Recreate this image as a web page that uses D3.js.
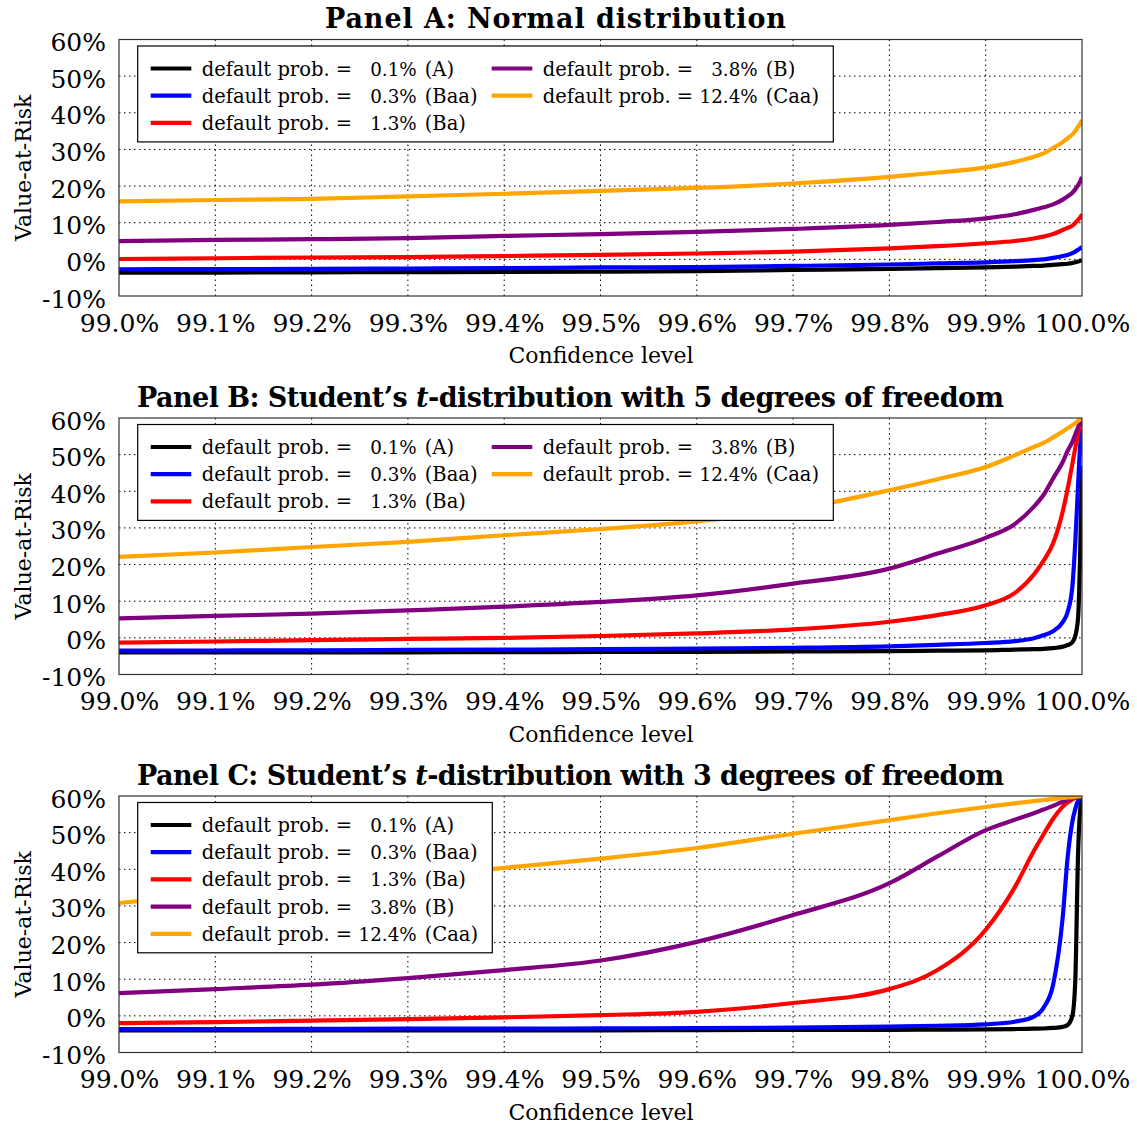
<!DOCTYPE html>
<html><head><meta charset="utf-8">
<script src="https://cdn.jsdelivr.net/npm/d3@7"></script>
<style>body{margin:0;background:#fff}svg{display:block}</style>
</head><body>
<svg id="chart" width="1137" height="1126"></svg>
<script>
// ---------- data ----------
const confLevels = [99.0, 99.1, 99.2, 99.3, 99.4, 99.5, 99.6, 99.7, 99.8, 99.85, 99.9, 99.93, 99.95, 99.96, 99.97, 99.98, 99.985, 99.99, 99.993, 99.996, 99.998, 100.0];

const xTickValues = [99.0, 99.1, 99.2, 99.3, 99.4, 99.5, 99.6, 99.7, 99.8, 99.9, 100.0];
const xTickLabels = ["99.0%", "99.1%", "99.2%", "99.3%", "99.4%", "99.5%", "99.6%", "99.7%", "99.8%", "99.9%", "100.0%"];
const yTickValues = [-10, 0, 10, 20, 30, 40, 50, 60];
const yTickLabels = ["-10%", "0%", "10%", "20%", "30%", "40%", "50%", "60%"];

const defaultProbs = ["0.1%", "0.3%", "1.3%", "3.8%", "12.4%"];
const ratings = ["(A)", "(Baa)", "(Ba)", "(B)", "(Caa)"];

// Panel A: normal distribution (VaR in %)
const normalA   = [-3.6, -3.6, -3.55, -3.5, -3.45, -3.35, -3.2, -2.9, -2.6, -2.4, -2.2, -2.0, -1.8, -1.7, -1.5, -1.3, -1.2, -1.0, -0.8, -0.6, -0.4, -0.2];
const normalBaa = [-2.7, -2.65, -2.6, -2.5, -2.4, -2.2, -2.1, -1.8, -1.4, -1.1, -0.8, -0.5, -0.2, 0.0, 0.4, 0.9, 1.2, 1.7, 2.1, 2.6, 3.0, 3.4];
const normalBa  = [0.1, 0.3, 0.5, 0.6, 0.9, 1.2, 1.6, 2.1, 3.0, 3.6, 4.4, 5.0, 5.7, 6.2, 6.9, 8.0, 8.6, 9.2, 9.9, 10.8, 11.4, 12.3];
const normalB   = [5.0, 5.3, 5.5, 5.8, 6.4, 6.9, 7.5, 8.3, 9.4, 10.2, 11.2, 12.3, 13.5, 14.2, 15.0, 16.3, 17.2, 18.2, 19.1, 20.3, 21.2, 22.5];
const normalCaa = [15.8, 16.2, 16.5, 17.2, 17.9, 18.7, 19.5, 20.7, 22.5, 23.7, 25.1, 26.6, 28.0, 28.9, 30.4, 32.0, 33.0, 34.1, 35.0, 36.2, 37.0, 38.0];

// Panel B: Student's t, 5 degrees of freedom
const t5A   = [-4.0, -4.0, -4.0, -3.95, -3.9, -3.85, -3.8, -3.7, -3.6, -3.5, -3.4, -3.2, -3.1, -3.0, -2.8, -2.4, -2.0, -1.2, 0.5, 5.7, 22.0, 47.0];
const t5Baa = [-3.5, -3.45, -3.4, -3.3, -3.2, -3.1, -2.9, -2.7, -2.3, -1.9, -1.4, -0.9, -0.1, 0.7, 1.8, 4.3, 7.0, 14.0, 26.0, 42.0, 52.0, 57.0];
const t5Ba  = [-1.3, -1.0, -0.6, -0.3, 0.0, 0.5, 1.2, 2.3, 4.4, 6.2, 8.9, 12.2, 17.3, 21.0, 25.8, 34.5, 40.5, 47.5, 51.8, 55.8, 58.2, 59.9];
const t5B   = [5.3, 6.0, 6.6, 7.5, 8.5, 9.8, 11.6, 14.8, 18.9, 23.0, 27.3, 31.0, 35.8, 39.0, 43.5, 48.0, 51.0, 53.5, 55.5, 57.5, 58.8, 59.9];
const t5Caa = [22.1, 23.3, 24.8, 26.2, 28.0, 29.7, 31.8, 35.0, 40.3, 43.3, 46.6, 49.8, 52.1, 53.2, 54.7, 56.3, 57.2, 58.0, 58.6, 59.2, 59.6, 59.9];

// Panel C: Student's t, 3 degrees of freedom
const t3A   = [-4.0, -4.0, -4.0, -4.0, -3.95, -3.95, -3.9, -3.85, -3.8, -3.75, -3.7, -3.6, -3.5, -3.45, -3.3, -3.0, -2.5, 0.0, 9.5, 45.0, 56.0, 60.0];
const t3Baa = [-3.6, -3.6, -3.55, -3.5, -3.5, -3.4, -3.35, -3.2, -2.9, -2.7, -2.3, -1.6, -0.2, 2.2, 8.5, 27.0, 43.0, 53.0, 56.5, 58.7, 59.5, 60.0];
const t3Ba  = [-2.0, -1.7, -1.3, -0.9, -0.4, 0.2, 1.1, 3.5, 7.3, 12.5, 23.5, 35.0, 45.0, 49.5, 53.8, 57.1, 58.3, 59.1, 59.5, 59.8, 59.9, 60.0];
const t3B   = [6.2, 7.3, 8.5, 10.3, 12.5, 15.1, 20.2, 27.5, 36.2, 43.5, 50.7, 53.5, 55.3, 56.3, 57.3, 58.5, 59.0, 59.4, 59.6, 59.8, 59.9, 60.0];
const t3Caa = [30.8, 33.3, 35.7, 38.0, 40.4, 42.9, 45.8, 49.7, 53.4, 55.3, 57.0, 58.0, 58.6, 58.9, 59.2, 59.5, 59.6, 59.7, 59.8, 59.9, 59.95, 60.0];

const seriesColors = ["#000000", "#0000ff", "#ff0000", "#800080", "#ffa500"];

// ---------- drawing ----------
const svg = d3.select("#chart");
const FONT = "'DejaVu Serif', serif";
const plotLeft = 119, plotRight = 1082, plotH = 256.5;

const x = d3.scaleLinear().domain([99, 100]).range([plotLeft, plotRight]);

function drawPanel(idx, top, titleParts, titleCx, titleW, series, legendCols) {
  const bottom = top + plotH;
  const y = d3.scaleLinear().domain([-10, 60]).range([bottom, top]);
  const g = svg.append("g");

  // title
  const t = g.append("text").attr("x", titleCx).attr("y", top - 11.2)
    .attr("text-anchor", "middle").attr("font-family", FONT)
    .attr("font-weight", "bold").attr("font-size", 27).attr("fill", "#000")
    .attr("textLength", titleW).attr("lengthAdjust", "spacing");
  titleParts.forEach(p => {
    const ts = t.append("tspan").text(p.text);
    if (p.italic) ts.attr("font-style", "italic");
  });

  // grid
  const grid = g.append("g").attr("stroke", "#000").attr("stroke-width", 1)
    .attr("stroke-dasharray", "1.5,3.5");
  xTickValues.slice(1, -1).forEach(v => {
    grid.append("line").attr("x1", x(v)).attr("x2", x(v)).attr("y1", top).attr("y2", bottom);
  });
  yTickValues.slice(1, -1).forEach(v => {
    grid.append("line").attr("x1", plotLeft).attr("x2", plotRight).attr("y1", y(v)).attr("y2", y(v));
  });

  // curves
  const clipId = "clip" + idx;
  g.append("clipPath").attr("id", clipId).append("rect")
    .attr("x", plotLeft).attr("y", top).attr("width", plotRight - plotLeft).attr("height", plotH);
  const line = d3.line().x(d => x(d[0])).y(d => y(d[1])).curve(d3.curveMonotoneX);
  const curves = g.append("g").attr("clip-path", `url(#${clipId})`);
  series.forEach((vals, i) => {
    curves.append("path")
      .attr("d", line(confLevels.map((c, k) => [c, vals[k]])))
      .attr("fill", "none").attr("stroke", seriesColors[i])
      .attr("stroke-width", 4.2).attr("stroke-linejoin", "round").attr("stroke-linecap", "butt");
  });

  // frame
  g.append("rect").attr("x", plotLeft).attr("y", top)
    .attr("width", plotRight - plotLeft).attr("height", plotH)
    .attr("fill", "none").attr("stroke", "#333").attr("stroke-width", 1.2);

  // axes (labels only)
  const xAxis = g.append("g").attr("transform", `translate(0,${bottom})`)
    .call(d3.axisBottom(x).tickValues(xTickValues).tickFormat((d, i) => xTickLabels[i]).tickSize(0));
  xAxis.select(".domain").remove();
  xAxis.selectAll("text").attr("y", 35.7).attr("dy", null)
    .attr("font-family", FONT).attr("font-size", 25).attr("fill", "#000");

  const yAxis = g.append("g").attr("transform", `translate(${plotLeft},0)`)
    .call(d3.axisLeft(y).tickValues(yTickValues).tickFormat((d, i) => yTickLabels[i]).tickSize(0));
  yAxis.select(".domain").remove();
  yAxis.selectAll("text").attr("x", -13).attr("dy", 11)
    .attr("font-family", FONT).attr("font-size", 25).attr("fill", "#000");

  // axis titles
  g.append("text").attr("x", 601).attr("y", bottom + 67).attr("text-anchor", "middle")
    .attr("font-family", FONT).attr("font-size", 22).text("Confidence level");
  g.append("text").attr("transform", `translate(31,${top + plotH / 2}) rotate(-90)`)
    .attr("text-anchor", "middle").attr("font-family", FONT).attr("font-size", 22)
    .text("Value-at-Risk");

  // legend
  const rowsPerCol = d3.max(legendCols, c => c.length);
  const lx = 137.7, ly = top + 6.5;
  const lw = legendCols.length === 2 ? 695.6 : 354.6;
  const lh = 41.5 + (rowsPerCol - 1) * 27.2;
  const leg = g.append("g");
  leg.append("rect").attr("x", lx).attr("y", ly).attr("width", lw).attr("height", lh)
    .attr("fill", "#fff").attr("stroke", "#000").attr("stroke-width", 1.2);
  const colX = [lx, 491.7 - 13];
  legendCols.forEach((col, ci) => {
    col.forEach((si, ri) => {
      const cx = colX[ci];
      const cy = ly + 22.5 + ri * 27.2;
      leg.append("line").attr("x1", cx + 13).attr("x2", cx + 53.6).attr("y1", cy).attr("y2", cy)
        .attr("stroke", seriesColors[si]).attr("stroke-width", 4.2);
      const tx = cx + 64;
      leg.append("text").attr("x", tx).attr("y", cy + 7).attr("font-family", FONT)
        .attr("font-size", 19.5).text("default prob. =");
      leg.append("text").attr("x", tx + 215).attr("y", cy + 7).attr("text-anchor", "end")
        .attr("font-family", FONT).attr("font-size", 18.3).text(defaultProbs[si]);
      leg.append("text").attr("x", tx + 223).attr("y", cy + 7).attr("font-family", FONT)
        .attr("font-size", 19.5).text(ratings[si]);
    });
  });
}

drawPanel(0, 39.5, [{text: "Panel A: Normal distribution"}], 555.5, 461,
  [normalA, normalBaa, normalBa, normalB, normalCaa], [[0, 1, 2], [3, 4]]);
drawPanel(1, 418, [{text: "Panel B: Student’s "}, {text: "t", italic: true}, {text: "-distribution with 5 degrees of freedom"}], 570.5, 867,
  [t5A, t5Baa, t5Ba, t5B, t5Caa], [[0, 1, 2], [3, 4]]);
drawPanel(2, 796, [{text: "Panel C: Student’s "}, {text: "t", italic: true}, {text: "-distribution with 3 degrees of freedom"}], 570.5, 867,
  [t3A, t3Baa, t3Ba, t3B, t3Caa], [[0, 1, 2, 3, 4]]);
</script>
</body></html>
